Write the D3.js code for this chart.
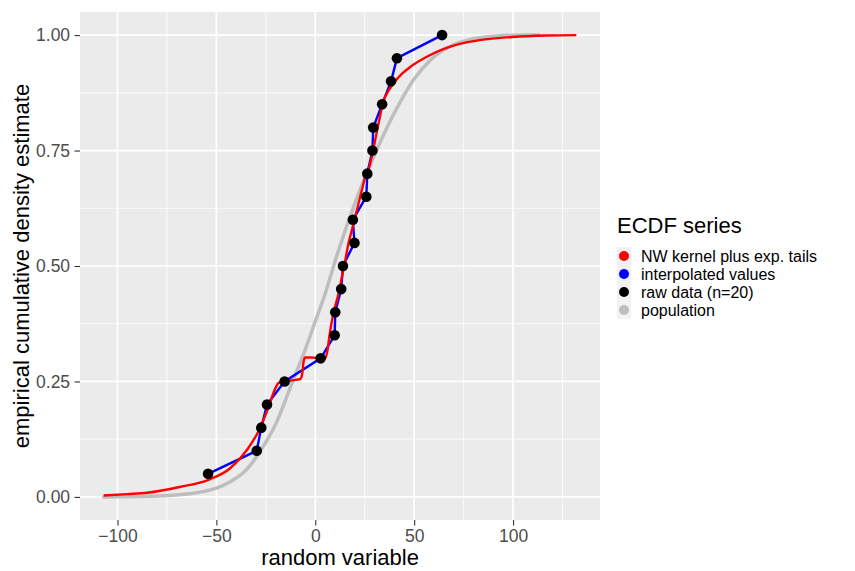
<!DOCTYPE html>
<html>
<head>
<meta charset="utf-8">
<script src="https://cdn.jsdelivr.net/npm/d3@7"></script>
<style>
  body { margin: 0; background: #fff; }
  text { font-family: "Liberation Sans", Arial, sans-serif; }
</style>
</head>
<body>
<div id="chart"></div>
<script>
// raw data (n=20): sorted sample and its ecdf level
const rawX = [-54.2, -29.6, -27.3, -24.4, -15.5, 2.7, 9.8, 10.1, 13.1, 14.0,
              19.8, 19.0, 25.8, 26.3, 28.9, 29.3, 33.8, 38.3, 41.3, 64.1];
const rawY = [0.05, 0.10, 0.15, 0.20, 0.25, 0.30, 0.35, 0.40, 0.45, 0.50,
              0.55, 0.60, 0.65, 0.70, 0.75, 0.80, 0.85, 0.90, 0.95, 1.00];

// NW kernel plus exponential tails
const nwX = [-107, -95, -85, -68, -54, -43, -34.5, -27.8, -23.6, -20.2, -18.5, -16, -11, -7.6,
             -6.7, -5.9, -5.1, -1.7, 1.7, 5.1, 6.2, 7.1, 9.2, 11.8, 13.5, 15.2, 16.8, 18.5,
             20.2, 21.9, 23.6, 25, 27, 28.6, 30.3, 32, 33.2, 33.7, 36, 39.5, 44, 48, 56.4,
             65, 73, 83, 100, 117, 132];
const nwY = [0.003, 0.006, 0.009, 0.022, 0.037, 0.062, 0.102, 0.150, 0.195, 0.235, 0.247, 0.250, 0.253, 0.255,
             0.264, 0.293, 0.302, 0.302, 0.300, 0.300, 0.318, 0.347, 0.398, 0.441, 0.477, 0.513, 0.549, 0.578,
             0.607, 0.636, 0.665, 0.690, 0.710, 0.737, 0.773, 0.809, 0.834, 0.848, 0.872, 0.895, 0.917, 0.931, 0.953,
             0.970, 0.981, 0.989, 0.996, 0.999, 1.000];

// population cdf
const popX = [-107, -90, -75, -60, -50, -43, -35, -28, -20, -11, -5, 0, 5, 10, 15, 20, 25,
              33, 41, 50, 58, 67, 80, 92, 105, 113];
const popY = [0.000, 0.001, 0.003, 0.009, 0.019, 0.033, 0.058, 0.098, 0.158, 0.255, 0.320, 0.380, 0.440,
              0.510, 0.575, 0.635, 0.690, 0.770, 0.840, 0.905, 0.945, 0.973, 0.992, 0.998, 1.000, 1.000];

const xTicks = [-100, -50, 0, 50, 100];
const yTicks = [0, 0.25, 0.5, 0.75, 1];

const legendLabels = ["NW kernel plus exp. tails", "interpolated values", "raw data (n=20)", "population"];
const legendColors = ["#ff0000", "#0000ff", "#000000", "#bebebe"];

const W = 855, H = 571;
const pL = 80, pR = 600, pT = 12, pB = 520;

const svg = d3.select("#chart").append("svg").attr("width", W).attr("height", H);

const xScale = d3.scaleLinear().domain([-118.95, 143.95]).range([pL, pR]);
const yScale = d3.scaleLinear().domain([-0.05, 1.05]).range([pB, pT]);

// Panel
svg.append("rect")
  .attr("x", pL).attr("y", pT)
  .attr("width", pR - pL).attr("height", pB - pT)
  .attr("fill", "#ebebeb");

// Grid
const xMinor = [-125, -75, -25, 25, 75, 125].filter(d => xScale(d) >= pL && xScale(d) <= pR);
const yMinor = [0.125, 0.375, 0.625, 0.875];
const grid = svg.append("g");
grid.selectAll(".xmin").data(xMinor).enter().append("line")
  .attr("x1", d => xScale(d)).attr("x2", d => xScale(d))
  .attr("y1", pT).attr("y2", pB)
  .attr("stroke", "#fff").attr("stroke-width", 0.8);
grid.selectAll(".ymin").data(yMinor).enter().append("line")
  .attr("x1", pL).attr("x2", pR)
  .attr("y1", d => yScale(d)).attr("y2", d => yScale(d))
  .attr("stroke", "#fff").attr("stroke-width", 0.8);
grid.selectAll(".xmaj").data(xTicks).enter().append("line")
  .attr("x1", d => xScale(d)).attr("x2", d => xScale(d))
  .attr("y1", pT).attr("y2", pB)
  .attr("stroke", "#fff").attr("stroke-width", 1.7);
grid.selectAll(".ymaj").data(yTicks).enter().append("line")
  .attr("x1", pL).attr("x2", pR)
  .attr("y1", d => yScale(d)).attr("y2", d => yScale(d))
  .attr("stroke", "#fff").attr("stroke-width", 1.7);

// Series
const lineSmooth = d3.line().x(d => xScale(d[0])).y(d => yScale(d[1])).curve(d3.curveMonotoneX);
const lineStraight = d3.line().x(d => xScale(d[0])).y(d => yScale(d[1]));

svg.append("path")
  .datum(d3.zip(popX, popY))
  .attr("d", lineSmooth)
  .attr("fill", "none").attr("stroke", "#bebebe").attr("stroke-width", 3.5)
  .attr("stroke-linecap", "round");

svg.append("path")
  .datum(d3.zip(rawX, rawY))
  .attr("d", lineStraight)
  .attr("fill", "none").attr("stroke", "#0000ff").attr("stroke-width", 2.4);

svg.append("path")
  .datum(d3.zip(nwX, nwY))
  .attr("d", lineSmooth)
  .attr("fill", "none").attr("stroke", "#ff0000").attr("stroke-width", 2.4);

svg.append("g")
  .selectAll("circle")
  .data(d3.zip(rawX, rawY)).enter()
  .append("circle")
  .attr("cx", d => xScale(d[0]))
  .attr("cy", d => yScale(d[1]))
  .attr("r", 5.3)
  .attr("fill", "#000");

// Axes
const xAxis = svg.append("g")
  .attr("transform", "translate(0," + pB + ")")
  .call(d3.axisBottom(xScale).tickValues(xTicks).tickFormat(d3.format("d")).tickSize(5.5).tickPadding(4.4));
const yAxis = svg.append("g")
  .attr("transform", "translate(" + pL + ",0)")
  .call(d3.axisLeft(yScale).tickValues(yTicks).tickFormat(d3.format(".2f")).tickSize(5.5).tickPadding(4.4));

[xAxis, yAxis].forEach(a => {
  a.select(".domain").remove();
  a.selectAll(".tick line").attr("stroke", "#333333").attr("stroke-width", 1.1);
  a.selectAll(".tick text")
    .attr("fill", "#4d4d4d")
    .attr("font-size", "17.5px")
    .attr("font-family", "'Liberation Sans', Arial, sans-serif");
});

// Axis titles
svg.append("text")
  .attr("x", (pL + pR) / 2).attr("y", 565)
  .attr("text-anchor", "middle")
  .attr("font-size", "22px")
  .attr("fill", "#000")
  .text("random variable");

svg.append("text")
  .attr("transform", "translate(29," + ((pT + pB) / 2) + ") rotate(-90)")
  .attr("text-anchor", "middle")
  .attr("font-size", "22px")
  .attr("fill", "#000")
  .text("empirical cumulative density estimate");

// Legend
const lg = svg.append("g");
lg.append("text")
  .attr("x", 617).attr("y", 233)
  .attr("font-size", "22px")
  .attr("fill", "#000")
  .text("ECDF series");

const keyY = d3.scaleLinear().domain([0, 3]).range([256, 310]);
const keys = lg.selectAll(".key").data(legendLabels).enter().append("g");
keys.append("rect")
  .attr("x", 617).attr("y", (d, i) => keyY(i) - 9)
  .attr("width", 14).attr("height", 18)
  .attr("fill", "#f2f2f2");
keys.append("circle")
  .attr("cx", 624).attr("cy", (d, i) => keyY(i))
  .attr("r", 5)
  .attr("fill", (d, i) => legendColors[i]);
keys.append("text")
  .attr("x", 641).attr("y", (d, i) => keyY(i) + 5.6)
  .attr("font-size", "16px")
  .attr("fill", "#000")
  .text(d => d);
</script>
</body>
</html>
